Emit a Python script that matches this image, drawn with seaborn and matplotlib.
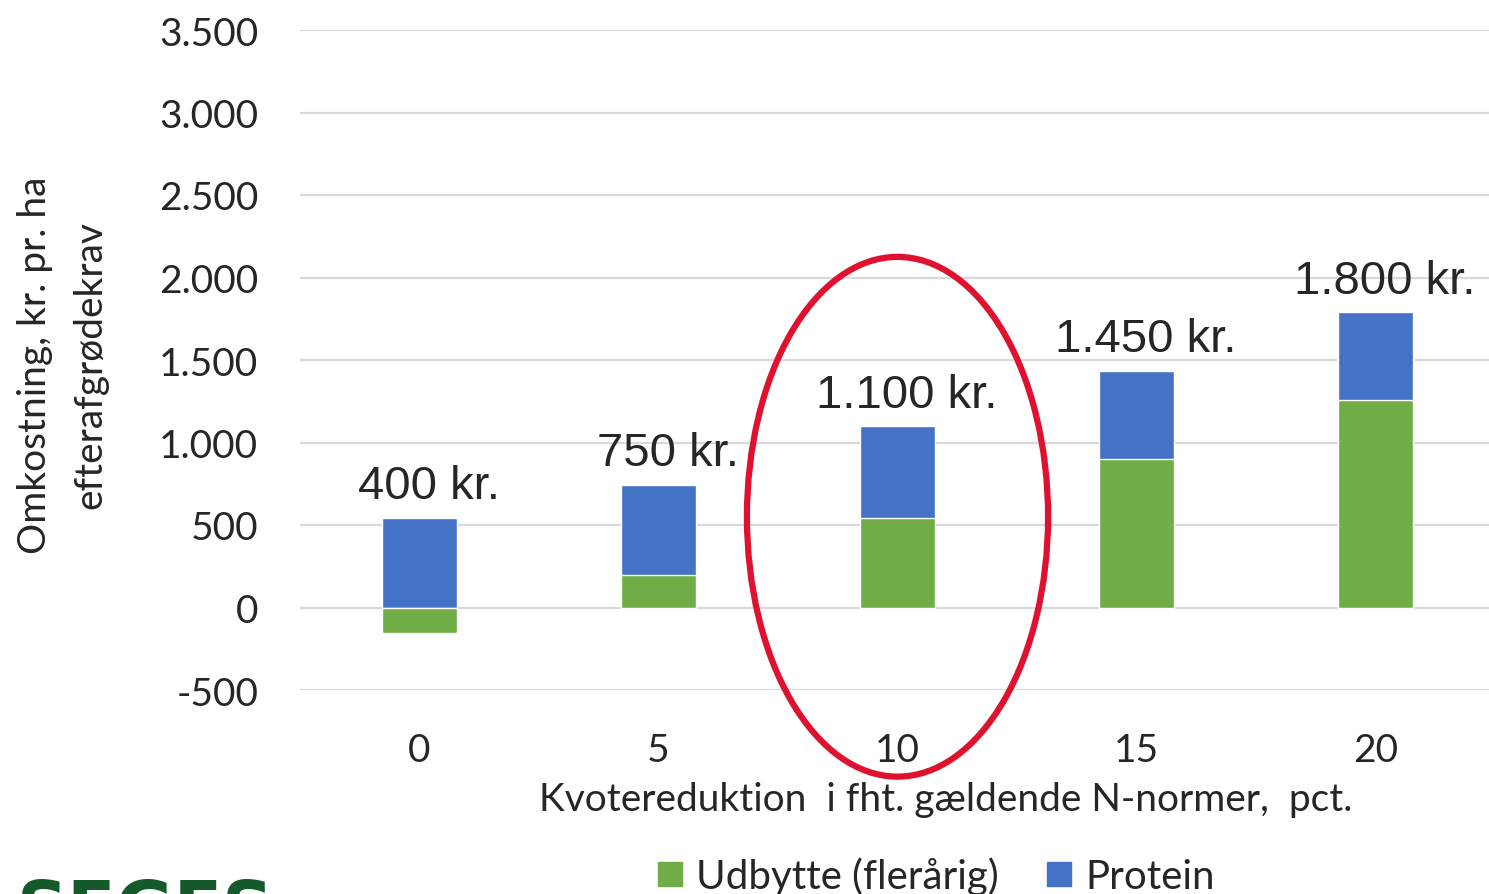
import pandas as pd
import seaborn as sns
import matplotlib.pyplot as plt
from matplotlib.patches import Ellipse
from matplotlib.lines import Line2D

# values
categories = ["0", "5", "10", "15", "20"]
udbytte = [-152, 194, 545, 897, 1255]
protein_top = [545, 745, 1097, 1436, 1788]   # top of the stacked bar
total_labels = ["400 kr.", "750 kr.", "1.100 kr.", "1.450 kr.", "1.800 kr."]
yticks = [-500, 0, 500, 1000, 1500, 2000, 2500, 3000, 3500]

green = "#70ad47"
blue = "#4472c4"
red = "#e0102f"

sns.set_theme(style="white")
plt.rcParams["font.family"] = ["Lato", "DejaVu Sans"]

df = pd.DataFrame({"kat": categories, "udbytte": udbytte, "top": protein_top})

fig = plt.figure(figsize=(14.89, 8.95), dpi=100)
ax = fig.add_axes([300 / 1489, 1 - 691 / 895, 1195 / 1489, (691 - 31) / 895])

# gridlines first
ax.set_ylim(-500, 3500)
ax.set_yticks(yticks)
ax.yaxis.grid(True, color="#d9d9d9", linewidth=1.6)
ax.set_axisbelow(True)

# stacked look: blue full height, green drawn over it
sns.barplot(data=df, x="kat", y="top", color=blue, width=0.31, saturation=1, ax=ax)
sns.barplot(data=df, x="kat", y="udbytte", color=green, width=0.31, saturation=1, ax=ax)

for i, lab in enumerate(total_labels):
    ax.annotate(lab, (i, protein_top[i]), xytext=(7, 7), textcoords="offset points",
                ha="center", va="bottom", fontsize=34, family="Liberation Sans")

ax.set_yticklabels([f"{v:,}".replace(",", ".") for v in yticks])
ax.tick_params(axis="y", length=0, pad=30, labelsize=28)
ax.tick_params(axis="x", length=0, pad=30, labelsize=28)
for s in ax.spines.values():
    s.set_visible(False)

ax.set_xlabel("Kvotereduktion  i fht. gældende N-normer,  pct.", fontsize=28)
ax.xaxis.set_label_coords((946 - 300) / 1195, (691 - 800) / 660)
ax.xaxis.label.set_va("center")
ax.set_ylabel("")
fig.text(35 / 1489, 1 - 365 / 895, "Omkostning, kr. pr. ha", rotation=90,
         ha="center", va="center", fontsize=28)
fig.text(90 / 1489, 1 - 365 / 895, "efterafgrødekrav", rotation=90,
         ha="center", va="center", fontsize=28)

# red ring around the 10 pct. bar
ax.add_patch(Ellipse((2, 550), 1.26, 3150, fill=False, edgecolor=red,
                     linewidth=4.5, clip_on=False, zorder=5))

handles = [Line2D([], [], marker="s", linestyle="", color=green, markersize=17),
           Line2D([], [], marker="s", linestyle="", color=blue, markersize=17)]
fig.legend(handles, ["Udbytte (flerårig)", "Protein"], loc="center",
           bbox_to_anchor=(934 / 1489, 1 - 877 / 895), ncol=2, frameon=False,
           fontsize=29, handlelength=0.8, handletextpad=0.25, columnspacing=1.1)

fig.text(17 / 1489, 1 - 878 / 895, "SEGES", color="#145a2a", fontsize=51,
         fontweight="bold", family="DejaVu Sans", ha="left", va="top")

fig.savefig("out.png", dpi=100)
